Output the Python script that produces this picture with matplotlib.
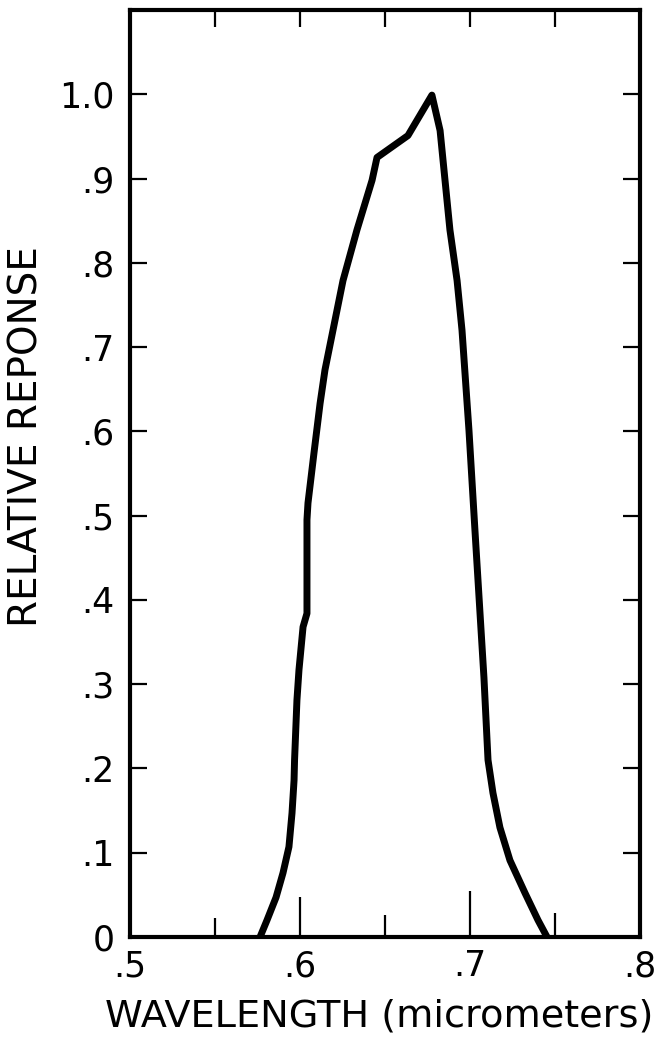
import matplotlib as mpl
mpl.use('Agg')
import matplotlib.pyplot as plt
from matplotlib.ticker import FixedLocator, FixedFormatter

# curve, going up the short-wave side and down the long-wave side
wavelength = [0.5765, 0.5806, 0.5859, 0.5900, 0.5935, 0.5953, 0.5965, 0.5968, 0.5982,
              0.5994, 0.6018, 0.6041, 0.6041, 0.6041, 0.6047, 0.6082, 0.6118, 0.6147,
              0.6194, 0.6253, 0.6335, 0.6424, 0.6453, 0.6635, 0.6776,
              0.6824, 0.6853, 0.6882, 0.6924, 0.6953, 0.6994, 0.7029, 0.7065, 0.7082,
              0.7106, 0.7135, 0.7176, 0.7235, 0.7324, 0.7400, 0.7453]
response = [0.000, 0.020, 0.047, 0.076, 0.107, 0.147, 0.186, 0.210, 0.281,
            0.317, 0.368, 0.384, 0.435, 0.495, 0.515, 0.574, 0.633, 0.673,
            0.720, 0.779, 0.839, 0.898, 0.925, 0.951, 0.999,
            0.957, 0.898, 0.839, 0.779, 0.720, 0.601, 0.483, 0.364, 0.308,
            0.210, 0.171, 0.130, 0.091, 0.052, 0.020, 0.000]

xticks = [0.5, 0.55, 0.6, 0.65, 0.7, 0.75, 0.8]
xticklabels = ['.5', '', '.6', '', '.7', '', '.8']
yticks = [0.0, 0.1, 0.2, 0.3, 0.4, 0.5, 0.6, 0.7, 0.8, 0.9, 1.0]
yticklabels = ['0', '.1', '.2', '.3', '.4', '.5', '.6', '.7', '.8', '.9', '1.0']

# bottom tick lengths differ in the original (points)
bottom_len = [0, 14, 29, 16, 33, 17, 0]
top_len = [0, 12, 12, 12, 12, 12, 0]

plt.rcParams['font.family'] = ['DejaVu Sans']

fig = plt.figure(figsize=(6.61, 10.43), dpi=100)
ax = fig.add_axes([130/661, 106/1043, 510/661, 927/1043])

ax.plot(wavelength, response, color='black', lw=5, solid_joinstyle='round', solid_capstyle='butt')

ax.set_xlim(0.5, 0.8)
ax.set_ylim(0, 1.1)

for s in ax.spines.values():
    s.set_linewidth(3)

ax.xaxis.set_major_locator(FixedLocator(xticks))
ax.xaxis.set_major_formatter(FixedFormatter(xticklabels))
ax.yaxis.set_major_locator(FixedLocator(yticks))
ax.yaxis.set_major_formatter(FixedFormatter(yticklabels))

ax.tick_params(axis='x', direction='in', top=True, bottom=True, width=1.6, pad=9, labelsize=25)
ax.tick_params(axis='y', direction='in', left=True, right=True, width=1.6, length=12, pad=11, labelsize=25)

for t, b, tp in zip(ax.xaxis.get_major_ticks(), bottom_len, top_len):
    t.tick1line.set_markersize(b)
    t.tick2line.set_markersize(tp)

ax.set_xlabel('WAVELENGTH (micrometers)', fontsize=27.5)
ax.xaxis.set_label_coords(0.488, -0.066)
ax.set_ylabel('RELATIVE REPONSE', fontsize=28)
ax.yaxis.set_label_coords(-0.165, 0.54)

fig.savefig('out.png', dpi=100)
plt.close(fig)
